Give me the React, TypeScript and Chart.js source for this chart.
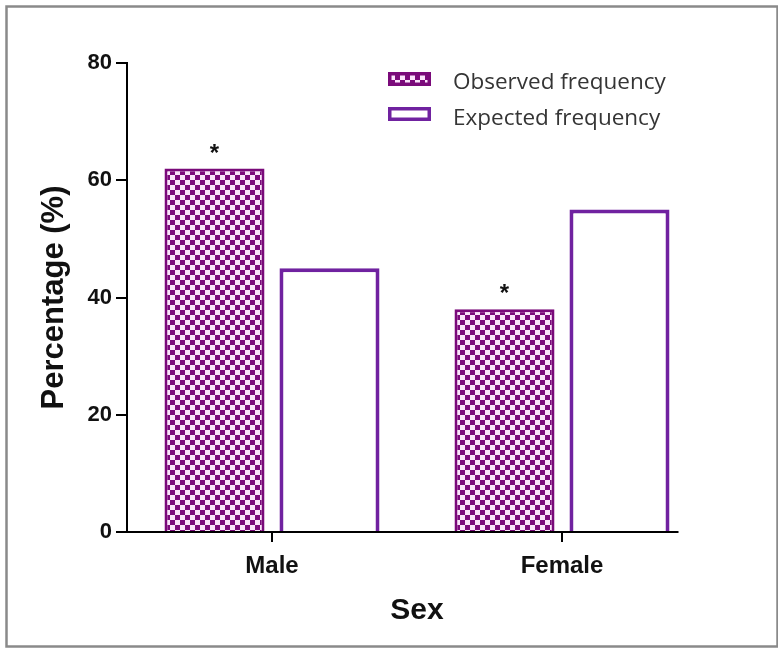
import React, { useEffect, useRef } from 'react';
import { Chart, registerables } from 'chart.js';

Chart.register(...registerables);

const categories = ['Male', 'Female'];
const observed = [62, 38];
const expected = [45, 55];
const seriesLabels = ['Observed frequency', 'Expected frequency'];
const observedMarks = ['*', '*'];
const yTicks = [0, 20, 40, 60, 80];
const xTitle = 'Sex';
const yTitle = 'Percentage (%)';

const BOLD = '"Liberation Sans", Arial, sans-serif';
const LEGEND_FONT = '"Open Sans", "Noto Sans", sans-serif';

function makeChecker(ctx: CanvasRenderingContext2D): CanvasPattern | string {
  const c = document.createElement('canvas');
  c.width = 10;
  c.height = 10;
  const g = c.getContext('2d');
  if (!g) return '#7e0b7e';
  g.fillStyle = '#fbe4fb';
  g.fillRect(0, 0, 10, 10);
  g.fillStyle = '#7c0a7c';
  g.fillRect(0, 0, 5, 5);
  g.fillRect(5, 5, 5, 5);
  return ctx.createPattern(c, 'repeat') || '#7e0b7e';
}

const decor = {
  id: 'decor',
  beforeDraw(chart: any) {
    const ctx = chart.ctx;
    ctx.save();
    ctx.fillStyle = '#ffffff';
    ctx.fillRect(0, 0, chart.width, chart.height);
    ctx.strokeStyle = '#8a8a8a';
    ctx.lineWidth = 2.5;
    ctx.strokeRect(6.5, 6.5, chart.width - 7, chart.height - 8);
    ctx.restore();
  },
  afterDatasetsDraw(chart: any) {
    const ctx = chart.ctx;
    const yScale = chart.scales.y;
    const area = chart.chartArea;
    const y0 = yScale.getPixelForValue(0);
    const lastMeta = chart.getDatasetMeta(chart.data.datasets.length - 1);
    const lastBar: any = lastMeta.data[lastMeta.data.length - 1];
    ctx.save();
    // x axis line
    ctx.strokeStyle = '#000';
    ctx.lineWidth = 2;
    ctx.beginPath();
    ctx.moveTo(area.left - 1, y0);
    ctx.lineTo(lastBar.x + lastBar.width / 2 + 9, y0);
    ctx.stroke();

    // significance marks
    const obsMeta = chart.getDatasetMeta(0);
    ctx.fillStyle = '#111';
    ctx.font = `bold 24px ${BOLD}`;
    ctx.textAlign = 'center';
    ctx.textBaseline = 'alphabetic';
    obsMeta.data.forEach((bar: any, i: number) => {
      const m = observedMarks[i];
      if (m) ctx.fillText(m, bar.x, bar.y - 8);
    });

    // legend
    chart.data.datasets.forEach((ds: any, i: number) => {
      const bx = 388;
      const by = 72 + i * 35;
      ctx.fillStyle = ds.backgroundColor;
      ctx.fillRect(bx, by, 43, 14);
      ctx.strokeStyle = ds.borderColor;
      ctx.lineWidth = 3.5;
      ctx.strokeRect(bx + 1.75, by + 1.75, 39.5, 10.5);
      ctx.fillStyle = '#353535';
      ctx.font = `22.5px ${LEGEND_FONT}`;
      ctx.textAlign = 'left';
      ctx.textBaseline = 'alphabetic';
      ctx.fillText(ds.label, 453, 89 + i * 36);
    });
    ctx.restore();
  },
};

export default function App() {
  const ref = useRef<HTMLCanvasElement | null>(null);
  useEffect(() => {
    const canvas = ref.current;
    if (!canvas) return;
    const ctx = canvas.getContext('2d');
    if (!ctx) return;
    const checker = makeChecker(ctx);
    const chart = new Chart(canvas, {
      type: 'bar',
      data: {
        labels: categories,
        datasets: [
          {
            label: seriesLabels[0],
            data: observed,
            backgroundColor: checker as any,
            borderColor: '#7a0a7a',
            borderWidth: 3,
            categoryPercentage: 0.793,
            barPercentage: 0.87,
          },
          {
            label: seriesLabels[1],
            data: expected,
            backgroundColor: '#ffffff',
            borderColor: '#7022a0',
            borderWidth: 4,
            categoryPercentage: 0.793,
            barPercentage: 0.87,
          },
        ],
      },
      options: {
        responsive: false,
        animation: false,
        layout: { padding: { left: 0, top: 63, right: 71, bottom: 0 } },
        plugins: {
          legend: { display: false },
          tooltip: { enabled: false },
        },
        scales: {
          x: {
            type: 'category',
            offset: true,
            grid: {
              display: true,
              drawOnChartArea: false,
              drawTicks: true,
              tickLength: 10,
              offset: false,
              color: '#000',
              lineWidth: 2,
            },
            border: { display: false },
            ticks: {
              color: '#111',
              padding: 10,
              font: { family: BOLD, weight: 'bold', size: 24 },
            },
            title: {
              display: true,
              text: xTitle,
              color: '#111',
              font: { family: BOLD, weight: 'bold', size: 30 },
              padding: { top: 0, bottom: 19 },
            },
            afterFit(s: any) {
              s.height = 116;
            },
          },
          y: {
            min: 0,
            max: 80,
            afterBuildTicks(s: any) {
              s.ticks = yTicks.map((v) => ({ value: v }));
            },
            grid: {
              drawOnChartArea: false,
              drawTicks: true,
              tickLength: 11,
              color: '#000',
              lineWidth: 2,
            },
            border: { display: true, color: '#000', width: 2 },
            ticks: {
              color: '#111',
              padding: 4,
              font: { family: BOLD, weight: 'bold', size: 22 },
            },
            title: {
              display: true,
              text: yTitle,
              color: '#111',
              font: { family: BOLD, weight: 'bold', size: 31 },
              padding: { top: 36, bottom: 0 },
            },
            afterFit(s: any) {
              s.width = 127;
            },
          },
        },
      },
      plugins: [decor],
    });
    return () => chart.destroy();
  }, []);
  return (
    <div style={{ position: 'absolute', left: 0, top: 0, width: 778, height: 648 }}>
      <canvas ref={ref} width={778} height={648} style={{ display: 'block' }} />
    </div>
  );
}
